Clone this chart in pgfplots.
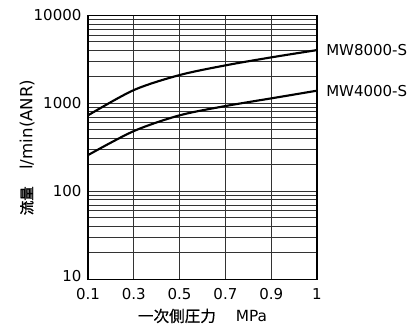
\documentclass[border=0pt]{standalone}
\usepackage{pgfplots}
\pgfplotsset{compat=1.18}
\usepackage{fontspec}
\setmainfont{DejaVu Sans}
\newfontfamily\cjk[FakeBold=0.5]{Noto Sans CJK JP}
\newfontfamily\cjkb[FakeBold=1.8]{Noto Sans CJK JP}
\begin{document}
\fontsize{11.25}{13}\selectfont
\begin{tikzpicture}
\useasboundingbox (0,0) rectangle (315pt,246.75pt);
\begin{axis}[
  at={(66pt,37.3pt)}, anchor=south west,
  scale only axis, width=171.75pt, height=197.9pt,
  xmin=0, xmax=5, ymin=10, ymax=10000, ymode=log,
  xtick={0,1,2,3,4,5}, xticklabels={0.1,0.3,0.5,0.7,0.9,1},
  ytick={10,100,1000,10000}, yticklabels={\raisebox{5.5pt}{10},100,1000,10000},
  /pgf/number format/assume math mode=true,
  grid=both,
  major grid style={black!80, line width=0.6pt},
  minor grid style={black!80, line width=0.6pt},
  major tick length=0pt, minor tick length=0pt,
  axis line style={black, line width=1.1pt},
  tick label style={font=\fontsize{11.25}{13}\selectfont},
  xticklabel style={yshift=-3pt},
  yticklabel style={xshift=-1pt},
  xlabel={{\fontsize{11.7}{13}\cjk 一次側圧力}\hspace{15pt}{\fontsize{11.5}{13}\selectfont MPa}},
  ylabel={{\fontsize{10.8}{13}\cjkb 流量}\hspace{12.5pt}{\fontsize{12.5}{14}\selectfont l/min(ANR)}},
  xlabel style={at={(axis description cs:0.5,-0.139)}, anchor=center},
  ylabel style={at={(axis description cs:-0.266,0.5)}, anchor=center},
  clip=false,
]
\addplot[black, line width=1.6pt, smooth] coordinates {
 (0,731) (1,1416) (2,2098) (3,2703) (4,3333) (5,4033)};
\addplot[black, line width=1.6pt, smooth] coordinates {
 (0,258) (1,484) (2,731) (3,932) (4,1140) (5,1393)};
\node[anchor=west, xshift=3pt] at (axis cs:5,4033) {MW8000-S};
\node[anchor=west, xshift=3pt] at (axis cs:5,1393) {MW4000-S};
\end{axis}
\end{tikzpicture}
\end{document}
